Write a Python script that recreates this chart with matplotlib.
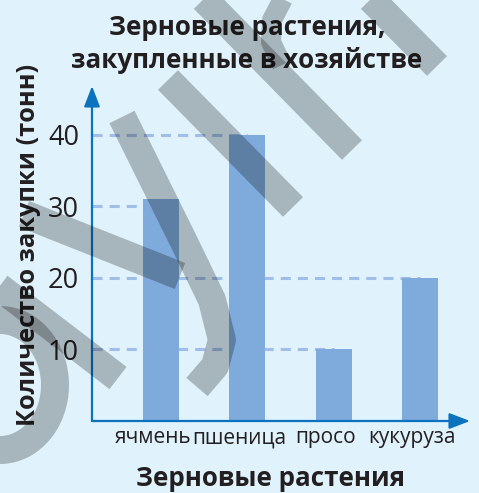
import numpy as np
import matplotlib
matplotlib.use("Agg")
import matplotlib.pyplot as plt
import matplotlib.transforms as mtransforms

plt.rcParams['font.family'] = ['Open Sans', 'DejaVu Sans']

# data
crops = ['ячмень', 'пшеница', 'просо', 'кукуруза']
tonnes = [31, 40, 10, 20]
y_ticks = [10, 20, 30, 40]

title_1 = 'Зерновые растения,'
title_2 = 'закупленные в хозяйстве'
x_title = 'Зерновые растения'
y_title = 'Количество закупки (тонн)'

W, H = 479, 493
bg = '#e0f2fc'
bar_col = '#7eaadc'
axis_col = '#0b72bd'
grid_col = '#a0bee8'
txt_col = '#231f20'

fig = plt.figure(figsize=(W / 100, H / 100), dpi=100, facecolor=bg)
ax = fig.add_axes([92 / W, (H - 421) / H, 378 / W, 335 / H])
ax.set_facecolor(bg)

x = np.arange(len(crops))
ax.set_xlim(-0.80, 3.58)
ax.set_ylim(0, 46.85)

ax.bar(x, tonnes, width=0.42, color=bar_col, zorder=3)

# dashed lines run from the axis to the bar that matches the tick
for t in y_ticks:
    k = int(np.argmin([abs(v - t) for v in tonnes]))
    ax.hlines(t, ax.get_xlim()[0], x[k], colors=grid_col, lw=2.2,
              linestyles=(0, (3.3, 2.3)), zorder=2)

for s in ax.spines.values():
    s.set_visible(False)

arrow = dict(arrowstyle='-|>,head_length=1.25,head_width=0.48', color=axis_col,
             lw=1.6, mutation_scale=10, shrinkA=0, shrinkB=0)
ax.annotate('', xy=(0, 1), xytext=(0, 0), xycoords='axes fraction', arrowprops=arrow, zorder=5)
ax.annotate('', xy=(1, 0), xytext=(0, 0), xycoords='axes fraction', arrowprops=arrow, zorder=5)

ax.set_xticks(x)
ax.set_xticklabels(crops, fontsize=15, color=txt_col)
ax.set_yticks(y_ticks)
ax.set_yticklabels([str(t) for t in y_ticks], fontsize=19.5, color=txt_col)
ax.tick_params(axis='x', length=0, pad=4.5)
ax.tick_params(axis='y', length=0, pad=9.4)

# the category names sit a little left of the bars
shift = mtransforms.ScaledTranslation(-8 / 100, 0, fig.dpi_scale_trans)
for lab in ax.get_xticklabels():
    lab.set_transform(lab.get_transform() + shift)

fig.text(247 / W, 1 - 35 / H, title_1, ha='center', va='baseline',
         fontsize=18.7, fontweight='bold', color=txt_col)
fig.text(247 / W, 1 - 68 / H, title_2, ha='center', va='baseline',
         fontsize=18.7, fontweight='bold', color=txt_col)
fig.text(271 / W, 1 - 486 / H, x_title, ha='center', va='baseline',
         fontsize=18.7, fontweight='bold', color=txt_col)
fig.text(29 / W, 1 - 245 / H, y_title, ha='center', va='center', rotation=90,
         fontsize=18.3, fontweight='bold', color=txt_col)

# grey watermark strokes on top of everything
wm = fig.add_axes([0, 0, 1, 1], zorder=20)
wm.set_xlim(0, W)
wm.set_ylim(H, 0)
wm.axis('off')
wm.patch.set_alpha(0)
lw = 28 * 0.72
strokes = [
    [(195, -10), (352, 150)],
    [(362, -10), (437, 66)],
    [(168, 80), (293, 207)],
    [(122, 117), (183, 240), (212, 300), (222, 340), (215, 366), (197, 387)],
    [(24, 214), (180, 276)],
    [(-10, 280), (118, 378)],
]
for st in strokes:
    xs, ys = zip(*st)
    wm.plot(xs, ys, color='black', alpha=0.25, lw=lw, solid_capstyle='butt',
            solid_joinstyle='round')
xs, ys = zip(*[(285, -5), (272, 20), (271, 42), (282, 65)])
wm.plot(xs, ys, color='black', alpha=0.25, lw=20 * 0.72, solid_capstyle='butt')
th = np.radians(np.linspace(115, -100, 60))
wm.plot(0 + 55 * np.cos(th), 385 - 65 * np.sin(th), color='black', alpha=0.25,
        lw=lw, solid_capstyle='butt')

fig.savefig('out.png', dpi=100, facecolor=bg)
